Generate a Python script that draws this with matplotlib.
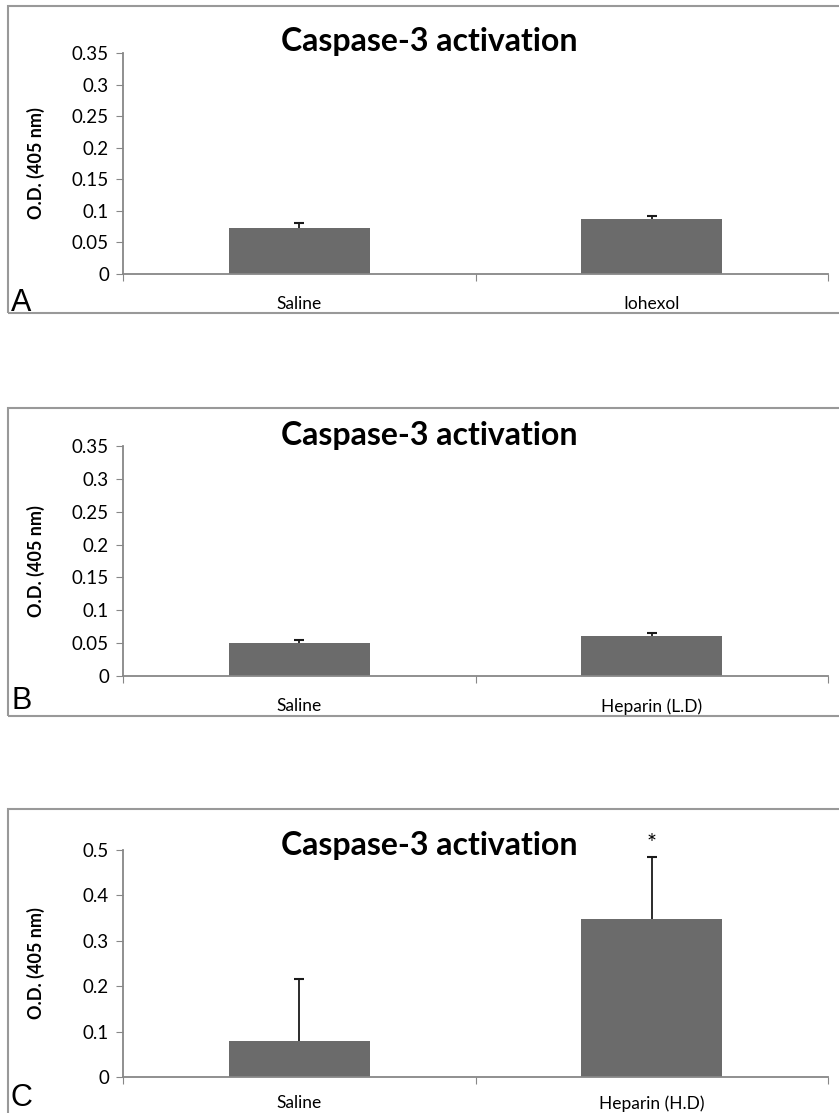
import numpy as np
import matplotlib
matplotlib.use('Agg')
import matplotlib.pyplot as plt
from matplotlib.patches import Rectangle

# datos
grupos_a = ['Saline', 'Iohexol']
medias_a = [0.073, 0.087]
errores_a = [0.007, 0.005]

grupos_b = ['Saline', 'Heparin (L.D)']
medias_b = [0.050, 0.061]
errores_b = [0.005, 0.004]

grupos_c = ['Saline', 'Heparin (H.D)']
medias_c = [0.079, 0.349]
errores_c = [0.136, 0.135]

ticks_a = [0, 0.05, 0.1, 0.15, 0.2, 0.25, 0.3, 0.35]
etiquetas_a = ['0', '0.05', '0.1', '0.15', '0.2', '0.25', '0.3', '0.35']
ticks_c = [0, 0.1, 0.2, 0.3, 0.4, 0.5]
etiquetas_c = ['0', '0.1', '0.2', '0.3', '0.4', '0.5']

titulo = 'Caspase-3 activation'
letras = ['A', 'B', 'C']

plt.rcParams['font.family'] = ['Lato', 'DejaVu Sans']

W, H = 839, 1113
fig = plt.figure(figsize=(W / 100, H / 100), dpi=100)

GRIS = '#878787'
BARRA = '#6b6b6b'


def fx(px):
    return px / W


def fy(py):
    return 1 - py / H


def panel(grupos, medias, errores, ticks, etiquetas, ymax,
          top_px, zero_px, caja, letra, letra_py, titulo_py,
          asterisco=False, pad_x=16):
    ax = fig.add_axes([fx(123), fy(zero_px), fx(828) - fx(123), fy(top_px) - fy(zero_px)])
    x = np.arange(len(grupos))
    ax.bar(x, medias, width=0.4, color=BARRA, zorder=2)
    _, caps, _ = ax.errorbar(x, medias, yerr=[np.zeros(len(errores)), errores], fmt='none',
                             ecolor='#1a1a1a', elinewidth=1.3, capsize=3.5,
                             capthick=1.5, zorder=3)
    # solo la barra de error superior
    caps[0].set_visible(False)
    ax.set_xlim(-0.5, len(grupos) - 0.5)
    ax.set_ylim(0, ymax)
    ax.set_yticks(ticks)
    ax.set_yticklabels(etiquetas, fontsize=13.5)
    ax.set_xticks([-0.5, 0.5, 1.5], minor=False)
    ax.set_xticklabels([])
    ax.set_xticks(x, minor=True)
    ax.set_xticklabels(grupos, minor=True, fontsize=12.5)
    ax.tick_params(axis='x', which='minor', length=0, pad=pad_x)
    ax.tick_params(axis='x', which='major', length=5, color=GRIS, direction='out')
    ax.tick_params(axis='y', length=5, color=GRIS, pad=5)
    for lado in ['top', 'right']:
        ax.spines[lado].set_visible(False)
    for lado in ['left', 'bottom']:
        ax.spines[lado].set_color(GRIS)
        ax.spines[lado].set_linewidth(1.3)
    ax.set_ylabel('O.D. (405 nm)', fontsize=13, fontweight='bold')
    ax.yaxis.set_label_coords((45 - 123) / (828 - 123), 0.5)
    fig.text(fx(429), fy(titulo_py), titulo, fontsize=23, fontweight='bold',
             ha='center', va='center')
    if asterisco:
        ax.text(1, medias[1] + errores[1] + 0.03, '*', ha='center', va='center',
                fontsize=17)
    # marco del panel
    top_c, bot_c = caja
    fig.patches.append(Rectangle((fx(8), fy(bot_c)), 1.2, fy(top_c) - fy(bot_c),
                                 transform=fig.transFigure, fill=False,
                                 edgecolor='#999999', linewidth=1.5))
    fig.text(fx(11), fy(letra_py), letra, fontsize=22, family='Liberation Sans',
             ha='left', va='baseline')
    return ax


panel(grupos_a, medias_a, errores_a, ticks_a, etiquetas_a, 0.35,
      53, 274, (6, 313), letras[0], 311, 42)
panel(grupos_b, medias_b, errores_b, ticks_a, etiquetas_a, 0.35,
      446, 676, (408, 716), letras[1], 709, 436)
panel(grupos_c, medias_c, errores_c, ticks_c, etiquetas_c, 0.5,
      850, 1077, (809, 1125), letras[2], 1106, 846, asterisco=True, pad_x=13)

fig.savefig('out.png', dpi=100)
